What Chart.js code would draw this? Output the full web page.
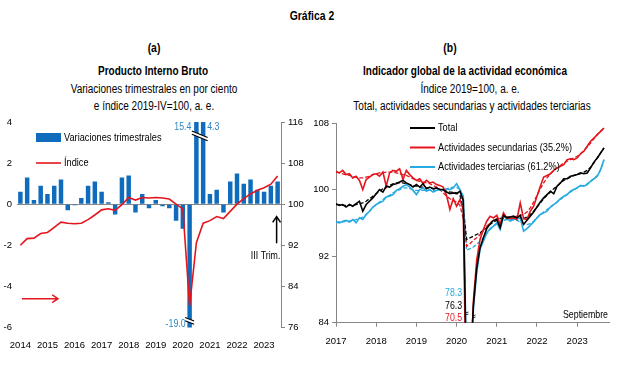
<!DOCTYPE html>
<html>
<head>
<meta charset="utf-8">
<script src="https://cdn.jsdelivr.net/npm/chart.js@4.4.1/dist/chart.umd.min.js"></script>
<style>
body{margin:0;width:625px;height:365px;background:#fff;position:relative;overflow:hidden;font-family:"Liberation Sans",Arial,sans-serif;color:#000}
.t{position:absolute;white-space:nowrap;transform:translate(-50%,-50%) scaleX(0.8);font-size:12.5px}
.b{font-weight:bold}
#wa{position:absolute;left:0;top:110px;width:312px;height:245px}
#wb{position:absolute;left:312px;top:110px;width:313px;height:245px}
</style>
</head>
<body>
<div class="t b" style="left:312px;top:15px;font-size:13px">Gráfica 2</div>
<div class="t b" style="left:154px;top:47px;font-size:13px">(a)</div>
<div class="t b" style="left:450px;top:47px;font-size:13px">(b)</div>
<div class="t b" style="left:153px;top:71px">Producto Interno Bruto</div>
<div class="t" style="left:154px;top:89px">Variaciones trimestrales en por ciento</div>
<div class="t" style="left:154px;top:106px">e índice 2019-IV=100, a. e.</div>
<div class="t b" style="left:465px;top:71px">Indicador global de la actividad económica</div>
<div class="t" style="left:470px;top:89px">Índice 2019=100, a. e.</div>
<div class="t" style="left:472px;top:106px">Total, actividades secundarias y actividades terciarias</div>
<div id="wa"><canvas id="ca"></canvas></div>
<div id="wb"><canvas id="cb"></canvas></div>
<script>
// (a) PIB trimestral, 2014-I a 2023-III
var aniosA = ['2014','2015','2016','2017','2018','2019','2020','2021','2022','2023'];
var trimestres = [];
for (var a = 0; a < aniosA.length; a++) {
	['I','II','III','IV'].forEach(function(q){ trimestres.push(q + ' ' + aniosA[a]); });
}
trimestres = trimestres.slice(0, 39);

var variaciones = [0.6,1.3,0.2,0.9, 0.5,0.9,1.2,-0.3, -0.05,0.3,0.9,1.1, 0.6,0.1,-0.5,1.3,
	1.4,-0.4,0.5,-0.2, 0.2,-0.1,-0.2,-0.8, -1.2,-19.0,15.4,4.3, 0.5,0.7,-0.4,1.1,
	1.5,1.0,1.2,0.7, 0.6,0.9,1.1];
var indice = [92.0,93.3,93.4,94.3, 94.5,95.5,96.5,96.3, 96.2,96.3,97.0,97.9, 98.9,99.1,98.8,99.9,
	101.3,100.8,101.3,101.2, 101.3,101.2,101.0,100.0, 99.1,80.2,92.5,96.3, 96.8,97.6,97.2,98.6,
	100.0,101.1,102.0,102.7, 103.2,103.9,105.5];

// (b) IGAE mensual, ene 2017 a sep 2023
var aniosB = ['2017','2018','2019','2020','2021','2022','2023'];
var total = [98.3,98.1,98.2,97.9,98.2,98.0,98.3,98.6,97.4,98.2,98.6,99.0,
	99.5,100.0,99.7,100.4,100.3,100.6,100.7,100.9,101.1,100.8,100.6,100.3,
	100.6,100.3,100.7,100.1,100.3,100.1,100.2,100.0,100.0,99.7,99.5,99.6,
	99.5,99.8,98.7,76.3,77.8,86.0,90.5,93.0,94.2,95.3,95.9,96.3,
	96.4,95.4,96.9,96.6,96.7,96.8,96.6,96.9,95.8,96.3,96.8,97.3,
	97.9,98.5,99.0,99.4,99.8,99.5,100.4,100.8,101.3,101.3,101.6,101.7,
	101.8,102.0,101.9,102.0,102.6,103.3,103.8,104.4,105.0];
var secundarias = [102.2,102.0,102.3,101.8,101.9,101.4,101.6,101.1,100.0,101.2,101.5,101.8,
	101.9,101.6,102.1,100.4,102.0,102.3,102.2,102.5,101.2,102.3,101.8,101.4,
	101.1,101.3,100.7,101.1,100.8,100.9,100.6,100.5,100.3,99.3,97.6,98.9,
	98.0,98.8,97.6,70.5,74.0,86.5,91.5,94.0,95.2,96.2,96.8,96.6,
	96.9,95.8,97.2,96.6,96.5,96.6,96.4,98.4,96.5,96.4,97.4,98.0,
	99.2,100.4,101.5,101.7,101.9,102.3,102.6,102.8,103.0,103.6,103.7,103.6,
	103.8,104.3,104.6,105.2,105.8,106.2,106.6,107.0,107.4];
var terciarias = [96.1,96.0,96.2,96.3,96.1,96.4,96.0,96.6,96.4,97.0,97.4,97.9,
	98.2,98.4,98.6,99.1,99.2,99.4,99.9,100.1,100.4,100.6,100.3,99.9,
	99.4,100.0,100.2,99.8,100.0,99.7,99.9,100.0,99.9,100.1,100.0,100.2,
	100.7,100.0,99.2,78.3,80.0,85.5,90.0,92.8,93.8,94.8,95.3,95.6,
	96.0,95.2,96.8,96.5,96.2,96.4,96.5,96.6,95.0,95.3,95.7,96.1,
	96.6,97.0,97.2,97.4,97.9,98.2,98.5,98.9,99.2,99.4,99.8,100.0,
	100.2,100.5,100.4,100.6,101.0,101.3,101.6,102.4,103.6];
// tendencias (lineas punteadas)
var totalTend = [98.2,98.2,98.1,98.1,98.1,98.1,98.2,98.3,98.4,98.6,98.9,99.2,
	99.5,99.8,100.1,100.3,100.5,100.7,100.8,100.8,100.8,100.7,100.6,100.5,
	100.4,100.3,100.3,100.2,100.2,100.1,100.1,100.0,99.9,99.8,99.7,99.7,
	99.6,99.3,97.8,94.0,94.2,94.4,94.6,94.8,95.1,95.4,95.8,96.1,
	96.3,96.5,96.6,96.7,96.7,96.7,96.6,96.5,96.5,96.7,97.0,97.4,
	97.9,98.4,98.9,99.3,99.7,100.1,100.4,100.8,101.1,101.3,101.5,101.7,
	101.8,101.9,102.1,102.3,102.7,103.2,103.8,104.4,105.0];
var secundariasTend = [102.1,102.0,101.9,101.8,101.7,101.6,101.5,101.4,101.4,101.5,101.6,101.8,
	101.9,102.0,102.0,102.1,102.1,102.1,102.0,101.9,101.8,101.7,101.5,101.3,
	101.1,101.0,100.9,100.8,100.7,100.5,100.3,100.0,99.6,99.2,98.9,98.7,
	98.5,98.1,96.5,93.2,93.5,93.9,94.2,94.6,95.1,95.6,96.0,96.3,
	96.5,96.6,96.7,96.7,96.7,96.7,96.8,96.9,97.0,97.3,97.8,98.5,
	99.3,100.1,100.8,101.4,101.9,102.3,102.6,102.9,103.2,103.4,103.6,103.8,
	104.0,104.3,104.7,105.1,105.6,106.1,106.6,107.0,107.4];
var terciariasTend = [96.1,96.1,96.1,96.2,96.2,96.3,96.4,96.5,96.7,97.0,97.4,97.8,
	98.2,98.5,98.8,99.1,99.3,99.6,99.8,100.0,100.2,100.2,100.1,100.0,
	99.9,99.9,99.9,99.9,99.9,99.9,99.9,100.0,100.0,100.1,100.2,100.3,
	100.3,100.0,98.5,92.7,92.9,93.1,93.4,93.8,94.2,94.7,95.2,95.6,
	95.9,96.1,96.3,96.4,96.4,96.4,96.3,96.1,95.9,95.8,95.9,96.2,
	96.6,97.0,97.3,97.6,97.9,98.2,98.5,98.8,99.1,99.4,99.7,100.0,
	100.2,100.4,100.5,100.7,101.0,101.3,101.7,102.4,103.5];

var fuente = '"Liberation Sans", Arial, sans-serif';
var azul = '#0F6CBD';
var azulTxt = '#2E86C1';
var rojo = '#E3161D';
var celeste = '#27A9E1';
var gris = '#868686';

Chart.defaults.font.family = fuente;
Chart.defaults.font.size = 9.5;
Chart.defaults.color = '#000';

// texto angosto (tipo Calibri)
function texto(c, s, x, y, alin, tam, color) {
	c.save();
	c.translate(x, y);
	c.scale(0.8, 1);
	c.font = tam + 'px ' + fuente;
	c.fillStyle = color || '#000';
	c.textAlign = alin;
	c.textBaseline = 'middle';
	c.fillText(s, 0, 0);
	c.restore();
}

function flecha(ctx, x1, y1, x2, y2, color) {
	var ang = Math.atan2(y2 - y1, x2 - x1);
	ctx.save();
	ctx.strokeStyle = color;
	ctx.lineWidth = 1.5;
	ctx.beginPath();
	ctx.moveTo(x1, y1); ctx.lineTo(x2, y2);
	ctx.moveTo(x2 - 7 * Math.cos(ang - 0.6), y2 - 7 * Math.sin(ang - 0.6));
	ctx.lineTo(x2, y2);
	ctx.lineTo(x2 - 7 * Math.cos(ang + 0.6), y2 - 7 * Math.sin(ang + 0.6));
	ctx.stroke();
	ctx.restore();
}

function corte(ctx, x1, x2, y, alto) {
	ctx.save();
	ctx.strokeStyle = '#fff';
	ctx.lineWidth = 3;
	ctx.beginPath(); ctx.moveTo(x1, y + 1.5); ctx.lineTo(x2, y + alto + 1.5); ctx.stroke();
	ctx.strokeStyle = '#000';
	ctx.lineWidth = 1.2;
	ctx.beginPath();
	ctx.moveTo(x1, y); ctx.lineTo(x2, y + alto);
	ctx.moveTo(x1, y + 3.2); ctx.lineTo(x2, y + alto + 3.2);
	ctx.stroke();
	ctx.restore();
}

var notasA = {
	id: 'notasA',
	afterDatasetsDraw: function(chart) {
		var c = chart.ctx, ca = chart.chartArea, x = chart.scales.x, y = chart.scales.y;
		// leyenda
		c.fillStyle = azul;
		c.fillRect(ca.left + 19, ca.top + 11, 25, 9);
		texto(c, 'Variaciones trimestrales', ca.left + 47, ca.top + 15.5, 'left', 11.5);
		c.save();
		c.strokeStyle = rojo; c.lineWidth = 1.6;
		c.beginPath(); c.moveTo(ca.left + 19, ca.top + 41); c.lineTo(ca.left + 44, ca.top + 41); c.stroke();
		c.restore();
		texto(c, 'Índice', ca.left + 47, ca.top + 41, 'left', 11.5);
		// valores fuera de escala
		texto(c, variaciones[26].toFixed(1), x.getPixelForValue(26) - 5, ca.top + 5, 'right', 11, azulTxt);
		texto(c, variaciones[25].toFixed(1), x.getPixelForValue(25) - 4, ca.bottom - 4, 'right', 11, azulTxt);
		texto(c, variaciones[27].toFixed(1), x.getPixelForValue(27) + 4, ca.top + 5, 'left', 11, azulTxt);
		corte(c, x.getPixelForValue(26) - 4.5, x.getPixelForValue(27) + 4.5, ca.top + 9, 6.5);
		corte(c, x.getPixelForValue(25) - 4.5, x.getPixelForValue(25) + 4.5, ca.bottom - 10, 3.5);
		// III Trim.
		var xu = x.getPixelForValue(38) - 1;
		flecha(c, xu, y.getPixelForValue(-1.9), xu, y.getPixelForValue(-0.6), '#000');
		texto(c, 'III Trim.', xu - 11, y.getPixelForValue(-2.5), 'center', 11);
		// flecha roja: eje derecho
		flecha(c, ca.left + 5, y.getPixelForValue(-4.6), ca.left + 41, y.getPixelForValue(-4.6), rojo);
	}
};

new Chart(document.getElementById('ca'), {
	data: {
		labels: trimestres,
		datasets: [
			{type: 'line', label: 'Índice', data: indice, yAxisID: 'y1', borderColor: rojo, borderWidth: 1.6, pointRadius: 0, tension: 0, order: 0},
			{type: 'bar', label: 'Variaciones trimestrales', data: variaciones, yAxisID: 'y', backgroundColor: azul, barPercentage: 0.66, categoryPercentage: 1, order: 1}
		]
	},
	options: {
		animation: false,
		responsive: true,
		maintainAspectRatio: false,
		devicePixelRatio: 1,
		layout: {padding: {top: 12}},
		plugins: {legend: {display: false}, tooltip: {enabled: false}},
		scales: {
			x: {
				grid: {display: false}, border: {display: false},
				ticks: {autoSkip: false, maxRotation: 0, padding: 4,
					callback: function(v, i) { return i % 4 === 0 ? aniosA[i / 4] : ''; }},
				afterFit: function(s) { s.height = 27.5; }
			},
			y: {
				position: 'left', min: -6, max: 4,
				ticks: {stepSize: 2, padding: 5},
				grid: {drawTicks: false, color: function(c) { return c.tick && c.tick.value === 0 ? gris : 'rgba(0,0,0,0)'; }},
				border: {display: false},
				afterFit: function(s) { s.width = 17; }
			},
			y1: {
				position: 'right', min: 76, max: 116,
				ticks: {stepSize: 8, padding: 3},
				grid: {drawOnChartArea: false, tickLength: 4, color: gris},
				border: {color: gris},
				afterFit: function(s) { s.width = 31; }
			}
		}
	},
	plugins: [notasA]
});

function puntos(arr) {
	return arr.map(function(v, i) { return {x: i, y: v}; });
}

var notasB = {
	id: 'notasB',
	afterDatasetsDraw: function(chart) {
		var c = chart.ctx, ca = chart.chartArea, x = chart.scales.x;
		var ley = [['Total', '#000'], ['Actividades secundarias (35.2%)', rojo], ['Actividades terciarias (61.2%)', celeste]];
		ley.forEach(function(l, i) {
			var yy = ca.top + 5 + i * 19.5;
			c.save();
			c.strokeStyle = l[1]; c.lineWidth = 2;
			c.beginPath(); c.moveTo(ca.left + 74, yy); c.lineTo(ca.left + 99, yy); c.stroke();
			c.restore();
			texto(c, l[0], ca.left + 102, yy, 'left', 11.5);
		});
		// minimos abril 2020
		var xa = x.getPixelForValue(39) - 4.5;
		texto(c, terciarias[39].toFixed(1), xa, ca.bottom - 30, 'right', 11, celeste);
		texto(c, total[39].toFixed(1), xa, ca.bottom - 17, 'right', 11, '#000');
		texto(c, secundarias[39].toFixed(1), xa, ca.bottom - 5, 'right', 11, rojo);
		texto(c, 'Septiembre', ca.right - 1, ca.bottom - 8, 'right', 11);
		// marcas de corte
		c.save();
		c.strokeStyle = '#000'; c.lineWidth = 0.8;
		[[39.1, 9], [41.2, 6]].forEach(function(m) {
			var px = x.getPixelForValue(m[0]), py = ca.bottom - m[1];
			c.beginPath();
			c.moveTo(px - 1.5, py - 1); c.lineTo(px + 1.5, py - 1.6);
			c.moveTo(px - 1.5, py + 1); c.lineTo(px + 1.5, py + 0.4);
			c.stroke();
		});
		c.restore();
	}
};

function serie(etq, arr, color, punteada) {
	return {
		label: etq, data: puntos(arr), borderColor: color,
		borderWidth: punteada ? 1.3 : 1.6, borderDash: punteada ? [4, 2] : [],
		pointRadius: 0, tension: 0
	};
}

new Chart(document.getElementById('cb'), {
	type: 'line',
	data: {
		datasets: [
			serie('Total', total, '#000', false),
			serie('Actividades secundarias (35.2%)', secundarias, rojo, false),
			serie('Actividades terciarias (61.2%)', terciarias, celeste, false),
			serie('Total tendencia', totalTend, '#000', true),
			serie('Secundarias tendencia', secundariasTend, rojo, true),
			serie('Terciarias tendencia', terciariasTend, celeste, true)
		]
	},
	options: {
		animation: false,
		responsive: true,
		maintainAspectRatio: false,
		devicePixelRatio: 1,
		layout: {padding: {top: 13, right: 16}},
		plugins: {legend: {display: false}, tooltip: {enabled: false}},
		scales: {
			x: {
				type: 'linear', min: 0, max: 81.5,
				afterBuildTicks: function(s) { s.ticks = aniosB.map(function(a, i) { return {value: i * 12}; }); },
				ticks: {maxRotation: 0, padding: 9, callback: function(v) { return aniosB[Math.round(v / 12)]; }},
				grid: {drawOnChartArea: false, tickLength: 4, color: gris},
				border: {color: gris},
				afterFit: function(s) { s.height = 32.3; }
			},
			y: {
				min: 84, max: 108,
				ticks: {stepSize: 8, padding: 3},
				grid: {drawOnChartArea: false, tickLength: 4, color: gris},
				border: {color: gris},
				afterFit: function(s) { s.width = 24; }
			}
		}
	},
	plugins: [notasB]
});
</script>
</body>
</html>
